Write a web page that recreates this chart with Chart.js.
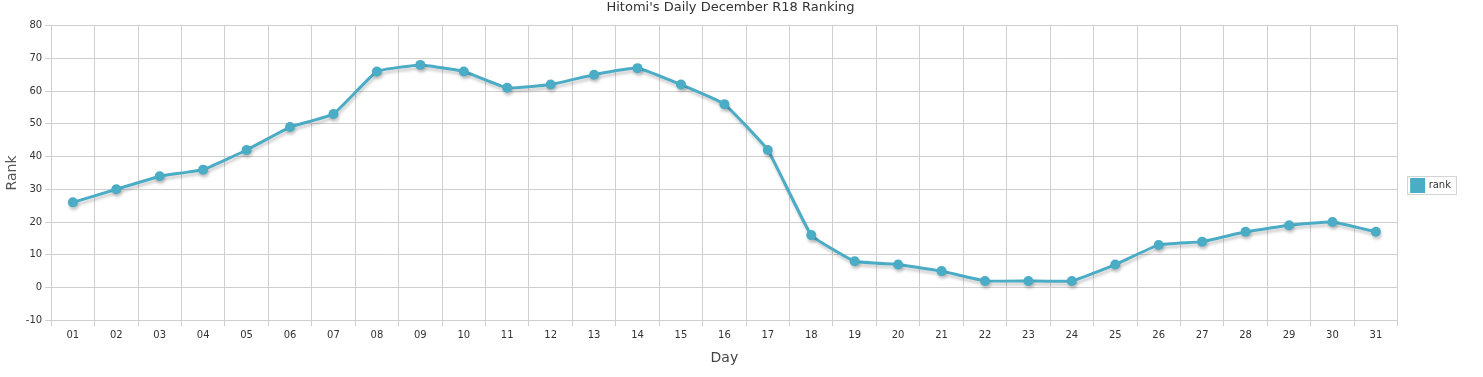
<!DOCTYPE html>
<html>
<head>
<meta charset="utf-8">
<script src="https://cdn.jsdelivr.net/npm/chart.js@4.4.0/dist/chart.umd.min.js"></script>
<style>
  html, body { margin: 0; padding: 0; background: #fff; }
  #wrap { width: 1483px; height: 377px; position: relative; }
</style>
</head>
<body>
<div id="wrap"><canvas id="rankChart"></canvas></div>
<script>
const days = ['01','02','03','04','05','06','07','08','09','10','11','12','13','14','15','16',
              '17','18','19','20','21','22','23','24','25','26','27','28','29','30','31'];
const rank = [26, 30, 34, 36, 42, 49, 53, 66, 68, 66, 61, 62, 65, 67, 62, 56,
              42, 16, 8, 7, 5, 2, 2, 2, 7, 13, 14, 17, 19, 20, 17];
const yTicks = { min: -10, max: 80, step: 10 };

const lineColor = 'rgb(75, 172, 198)';

// soft drop shadow under the line, like the original
const shadowPlugin = {
    id: 'shadow',
    beforeDatasetDraw(chart) {
        let ctx = chart.ctx;
        ctx.save();
        ctx.shadowColor = 'rgba(0, 0, 0, 0.2)';
        ctx.shadowBlur = 3;
        ctx.shadowOffsetX = 1;
        ctx.shadowOffsetY = 3;
    },
    afterDatasetDraw(chart) {
        chart.ctx.restore();
    }
};

// thin frame round the legend
const legendFrame = {
    id: 'legendFrame',
    afterDraw(chart) {
        let boxes = chart.legend.legendHitBoxes;
        if (!boxes || !boxes.length) return;
        let b = boxes[0];
        let ctx = chart.ctx;
        ctx.save();
        ctx.strokeStyle = '#d4d4d4';
        ctx.lineWidth = 1;
        ctx.strokeRect(Math.round(b.left) - 4.5, Math.round(b.top) - 3.5, Math.round(b.width) + 10, Math.round(b.height) + 6);
        ctx.restore();
    }
};

Chart.defaults.font.family = 'Tahoma, "DejaVu Sans", Verdana, sans-serif';
Chart.defaults.color = '#444';

const data = {
    labels: days,
    datasets: [{
        label: 'rank',
        data: rank,
        borderColor: lineColor,
        backgroundColor: lineColor,
        borderWidth: 3,
        pointRadius: 5,
        pointHoverRadius: 6,
        pointBackgroundColor: lineColor,
        pointBorderWidth: 0,
        tension: 0.1
    }]
};

const config = {
    type: 'line',
    data: data,
    options: {
        responsive: true,
        maintainAspectRatio: false,
        animation: false,
        layout: { padding: { left: 0, right: 22, top: 0, bottom: 6 } },
        plugins: {
            title: {
                display: true,
                text: "Hitomi's Daily December R18 Ranking",
                color: '#333',
                font: { size: 13, weight: 'normal' },
                padding: { top: 0, bottom: 10 }
            },
            legend: {
                position: 'right',
                labels: {
                    boxWidth: 12,
                    boxHeight: 12,
                    color: '#333',
                    font: { size: 10 },
                    padding: 14
                }
            },
            tooltip: { enabled: false }
        },
        scales: {
            x: {
                offset: true,
                grid: {
                    offset: true,
                    color: '#cfcfcf',
                    tickLength: 6
                },
                border: { color: '#cfcfcf' },
                ticks: { color: '#333', font: { size: 10 }, maxRotation: 0 },
                title: {
                    display: true,
                    text: 'Day',
                    color: '#444',
                    font: { size: 14 },
                    padding: { top: 6 }
                }
            },
            y: {
                min: yTicks.min,
                max: yTicks.max,
                grid: { color: '#cfcfcf', tickLength: 6 },
                border: { color: '#cfcfcf' },
                ticks: { stepSize: yTicks.step, color: '#333', font: { size: 10 } },
                title: {
                    display: true,
                    text: 'Rank',
                    color: '#555',
                    font: { size: 14 },
                    padding: { bottom: 2 }
                }
            }
        }
    },
    plugins: [shadowPlugin, legendFrame]
};

let ctx = document.getElementById('rankChart').getContext('2d');
new Chart(ctx, config);
</script>
</body>
</html>
